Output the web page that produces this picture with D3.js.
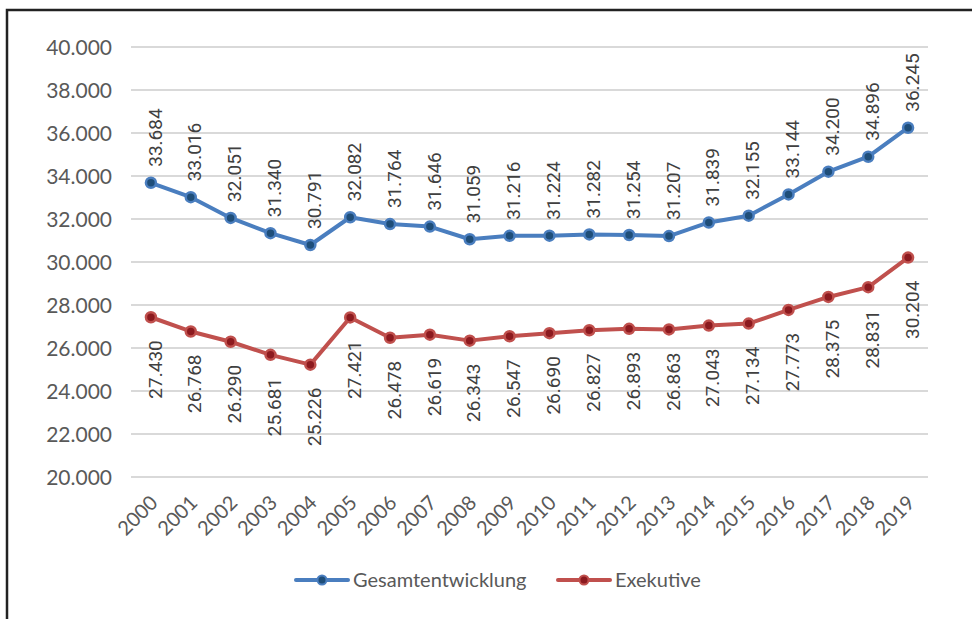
<!DOCTYPE html>
<html>
<head>
<meta charset="utf-8">
<style>
  body { margin: 0; background: #fff; }
  svg { display: block; }
  .grid line { stroke: #d9d9d9; stroke-width: 2; }
  .ytick { font-family: Lato, sans-serif; font-size: 21px; fill: #595959; }
  .xtick { font-family: Lato, sans-serif; font-size: 20px; fill: #595959; }
  .dlabel { font-family: Roboto, sans-serif; font-size: 19px; fill: #404040; }
  .legend { font-family: Lato, sans-serif; font-size: 20px; fill: #595959; }
</style>
</head>
<body>
<svg width="972" height="619"></svg>
<script src="https://cdn.jsdelivr.net/npm/d3@7"></script>
<script>

// Jahre (x-Achse)
var years = ["2000","2001","2002","2003","2004","2005","2006","2007","2008","2009",
             "2010","2011","2012","2013","2014","2015","2016","2017","2018","2019"];

// Werte in Tausend
var gesamt = [33.684, 33.016, 32.051, 31.340, 30.791, 32.082, 31.764, 31.646, 31.059, 31.216,
              31.224, 31.282, 31.254, 31.207, 31.839, 32.155, 33.144, 34.200, 34.896, 36.245];
var exekutive = [27.430, 26.768, 26.290, 25.681, 25.226, 27.421, 26.478, 26.619, 26.343, 26.547,
                 26.690, 26.827, 26.893, 26.863, 27.043, 27.134, 27.773, 28.375, 28.831, 30.204];

var yTicks = [20, 22, 24, 26, 28, 30, 32, 34, 36, 38, 40];
var seriesNames = ["Gesamtentwicklung", "Exekutive"];

var svg = d3.select("svg");

// Rahmen
svg.append("rect")
  .attr("x", 7).attr("y", 10)
  .attr("width", 1000).attr("height", 700)
  .attr("fill", "none")
  .attr("stroke", "#222")
  .attr("stroke-width", 2.5);

var x = d3.scalePoint().domain(years).range([131, 928]).padding(0.5);
var y = d3.scaleLinear().domain([20, 40]).range([477, 47]);

function fmt(v) { return v.toFixed(3); }

// Gitterlinien
svg.append("g").attr("class", "grid")
  .selectAll("line").data(yTicks).enter().append("line")
  .attr("x1", 131).attr("x2", 928)
  .attr("y1", function (d) { return y(d); })
  .attr("y2", function (d) { return y(d); });

// y-Achse
svg.append("g").selectAll("text").data(yTicks).enter().append("text")
  .attr("class", "ytick")
  .attr("x", 112)
  .attr("y", function (d) { return y(d); })
  .attr("dy", "0.36em")
  .attr("text-anchor", "end")
  .text(fmt);

// x-Achse
svg.append("g").selectAll("text").data(years).enter().append("text")
  .attr("class", "xtick")
  .attr("text-anchor", "end")
  .attr("transform", function (d) { return "translate(" + (x(d) + 8) + "," + 504 + ") rotate(-45)"; })
  .text(function (d) { return d; });

var line = d3.line()
  .x(function (d, i) { return x(years[i]); })
  .y(function (d) { return y(d); });

var series = [
  { name: seriesNames[0], values: gesamt, color: "#4a7ebf", dark: "#1f4e79", above: true },
  { name: seriesNames[1], values: exekutive, color: "#c0504d", dark: "#8c1a1f", above: false }
];

series.forEach(function (s) {
  svg.append("path")
    .datum(s.values)
    .attr("d", line)
    .attr("fill", "none")
    .attr("stroke", s.color)
    .attr("stroke-width", 4)
    .attr("stroke-linejoin", "round");

  svg.append("g").selectAll("circle").data(s.values).enter().append("circle")
    .attr("cx", function (d, i) { return x(years[i]); })
    .attr("cy", function (d) { return y(d); })
    .attr("r", 5)
    .attr("fill", s.dark)
    .attr("stroke", s.color)
    .attr("stroke-width", 2.5);

  // Datenbeschriftung
  svg.append("g").selectAll("text").data(s.values).enter().append("text")
    .attr("class", "dlabel")
    .attr("text-anchor", s.above ? "start" : "end")
    .attr("dy", "0.35em")
    .attr("transform", function (d, i) {
      var ty = s.above ? y(d) - 16 : y(d) + 23;
      return "translate(" + (x(years[i]) + 4) + "," + ty + ") rotate(-90)";
    })
    .text(fmt);
});

// Legende
var legendPos = [296, 558];
series.forEach(function (s, i) {
  var lx = legendPos[i], ly = 580;
  svg.append("line")
    .attr("x1", lx).attr("x2", lx + 52)
    .attr("y1", ly).attr("y2", ly)
    .attr("stroke", s.color).attr("stroke-width", 4)
    .attr("stroke-linecap", "round");
  svg.append("circle")
    .attr("cx", lx + 26).attr("cy", ly).attr("r", 4.5)
    .attr("fill", s.dark).attr("stroke", s.color).attr("stroke-width", 2);
  svg.append("text")
    .attr("class", "legend")
    .attr("x", lx + 57).attr("y", ly)
    .attr("dy", "0.35em")
    .text(s.name);
});

</script>
</body>
</html>
